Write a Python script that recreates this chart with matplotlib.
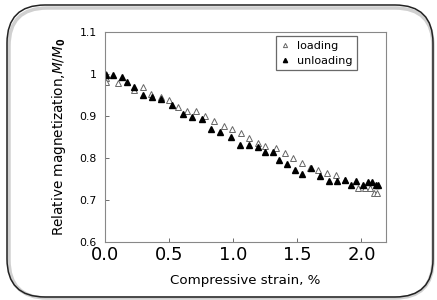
import matplotlib
matplotlib.use("Agg")
import matplotlib.pyplot as plt
from matplotlib.patches import FancyBboxPatch

# loading (open triangles)
load_x = [0.01, 0.01, 0.01, 0.10, 0.23, 0.30, 0.36, 0.44, 0.50, 0.57, 0.64, 0.71,
          0.78, 0.85, 0.93, 0.99, 1.06, 1.12, 1.19, 1.25, 1.33, 1.40, 1.47, 1.54,
          1.60, 1.66, 1.73, 1.80, 1.87, 1.97, 2.03, 2.07, 2.10, 2.12]
load_y = [1.000, 0.990, 0.982, 0.980, 0.963, 0.969, 0.953, 0.945, 0.939, 0.921, 0.912, 0.912,
          0.900, 0.888, 0.877, 0.869, 0.859, 0.848, 0.837, 0.829, 0.823, 0.812, 0.800, 0.789,
          0.777, 0.771, 0.765, 0.759, 0.749, 0.730, 0.730, 0.730, 0.718, 0.718]

# unloading (filled triangles)
unload_x = [0.01, 0.06, 0.13, 0.17, 0.23, 0.30, 0.37, 0.44, 0.52, 0.61, 0.68, 0.76,
            0.83, 0.90, 0.98, 1.05, 1.12, 1.19, 1.25, 1.31, 1.36, 1.42, 1.48, 1.54,
            1.61, 1.68, 1.75, 1.81, 1.87, 1.92, 1.96, 2.01, 2.05, 2.08, 2.11, 2.13]
unload_y = [0.998, 0.998, 0.992, 0.981, 0.969, 0.951, 0.945, 0.941, 0.926, 0.904, 0.899, 0.892,
            0.869, 0.863, 0.851, 0.832, 0.832, 0.826, 0.814, 0.814, 0.796, 0.785, 0.772, 0.761,
            0.776, 0.757, 0.745, 0.745, 0.747, 0.737, 0.745, 0.737, 0.743, 0.743, 0.737, 0.735]

xticks = [0.0, 0.5, 1.0, 1.5, 2.0]
yticks = [0.6, 0.7, 0.8, 0.9, 1.0, 1.1]
ytick_labels = ["0.6", "0.7", "0.8", "0.9", "1", "1.1"]

fig = plt.figure(figsize=(4.37, 3.0), dpi=100)

# rounded frame around the whole picture
shadow = FancyBboxPatch((0.09, 0.02), 4.24, 2.90, boxstyle="round,pad=0,rounding_size=0.38",
                        transform=fig.dpi_scale_trans, fill=False, edgecolor="#d0d0d0", linewidth=2.5)
frame = FancyBboxPatch((0.07, 0.03), 4.26, 2.92, boxstyle="round,pad=0,rounding_size=0.38",
                       transform=fig.dpi_scale_trans, fill=False, edgecolor="#222222", linewidth=1.1)
fig.patches.append(shadow)
fig.patches.append(frame)

ax = fig.add_axes([0.240, 0.193, 0.643, 0.700])
ax.plot(load_x, load_y, linestyle="none", marker="^", markersize=3.8,
        markerfacecolor="white", markeredgecolor="#666666", markeredgewidth=0.7, label="loading")
ax.plot(unload_x, unload_y, linestyle="none", marker="^", markersize=3.8,
        markerfacecolor="black", markeredgecolor="black", label="unloading")

ax.set_xlim(0, 2.19)
ax.set_ylim(0.6, 1.1)
ax.set_xticks(xticks)
ax.set_xticklabels(["%.1f" % v for v in xticks], fontsize=13)
ax.set_yticks(yticks)
ax.set_yticklabels(ytick_labels, fontsize=7.8)
ax.tick_params(direction="in", length=3, width=0.6, color="#555555")
ax.tick_params(axis="x", pad=3)
ax.tick_params(axis="y", pad=6)
for s in ax.spines.values():
    s.set_color("#888888")
    s.set_linewidth(0.8)

ax.set_xlabel("Compressive strain, %", fontsize=9.6, labelpad=7)
ax.set_ylabel("Relative magnetization,$\\bf{\\it{M/M}}_0$", fontsize=9.8, labelpad=8)

leg = ax.legend(loc="upper right", bbox_to_anchor=(0.897, 0.981), fontsize=8, frameon=True,
                fancybox=False, edgecolor="#444444", handlelength=0.8, handletextpad=0.7,
                borderpad=0.4, labelspacing=0.45, borderaxespad=0, markerscale=0.8)
leg.get_frame().set_linewidth(0.9)

fig.savefig("out.png", dpi=100)
